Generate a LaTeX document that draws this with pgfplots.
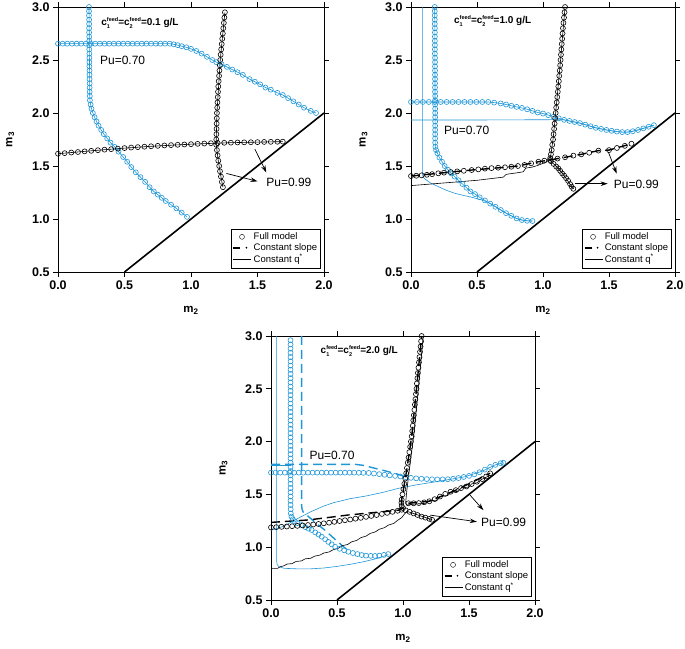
\documentclass[border=0pt]{standalone}
\usepackage{fontspec}
\setmainfont{Liberation Sans}
\usepackage{pgfplots}
\pgfplotsset{compat=1.18}
\usetikzlibrary{arrows.meta}
\definecolor{cblue}{RGB}{30,150,215}
\pgfplotsset{
 panel/.style={
  scale only axis, width=265pt, height=265pt,
  xmin=0,xmax=2,ymin=0.5,ymax=3,
  xtick={0,0.5,1,1.5,2}, ytick={0.5,1,1.5,2,2.5,3},
  tick align=outside, tick pos=both, major tick length=5pt,
  /pgf/number format/assume math mode=true,
  tick label style={font=\fontsize{12.5}{14}\selectfont\bfseries},
  xticklabel style={/pgf/number format/.cd,fixed,fixed zerofill,precision=1},
  yticklabel style={/pgf/number format/.cd,fixed,fixed zerofill,precision=1},
  xlabel={\textbf{m\textsubscript{2}}}, ylabel={\textbf{m\textsubscript{3}}},
  label style={font=\fontsize{11.5}{13}\selectfont\bfseries},
  xlabel style={at={(axis description cs:0.5,-0.145)},anchor=center},
  ylabel style={at={(axis description cs:-0.18,0.5)},anchor=center},
  axis line style={line width=0.8pt}, every tick/.style={black,line width=0.8pt},
  clip=false,
  legend style={at={(axis description cs:0.988,0.015)},anchor=south east,
    font=\fontsize{9.5}{10.5}\selectfont, draw=black, inner sep=1.5pt, row sep=-1.5pt,
    cells={anchor=west}},
  legend cell align=left,
 },
 full/.style={only marks, mark=o, mark size=2.5pt, mark options={line width=0.6pt}},
 qline/.style={line width=0.6pt, mark=none},
 sline/.style={line width=1.4pt, mark=none, dash pattern=on 9pt off 5pt},
}
\newcommand{\legimages}{%
 \addlegendimage{only marks, mark=o, mark size=2.5pt, black}
 \addlegendimage{legend image code/.code={\draw[line width=1.6pt,black] (0pt,0pt) -- (7pt,0pt); \fill[black] (13pt,0pt) circle (0.7pt);}}
 \addlegendimage{legend image code/.code={\draw[line width=0.5pt,black] (0pt,0pt) -- (18pt,0pt);}}
 \legend{Full model, Constant slope, Constant q\textsuperscript{*}}
}
\newcommand{\cf}[1]{c\makebox[0pt][l]{\raisebox{-2.6pt}{\fontsize{5.5}{6}\selectfont #1}}\raisebox{4.2pt}{\fontsize{5.5}{6}\selectfont feed}}
\tikzset{arr/.style={-{Stealth[length=7pt,width=4.5pt]}, line width=0.7pt, black},
 pu/.style={anchor=west, font=\fontsize{12}{14}\selectfont},
 ttl/.style={anchor=west, font=\fontsize{10}{11}\selectfont\bfseries}}
\begin{document}
\begin{tikzpicture}
\useasboundingbox (0pt,0pt) rectangle (685pt,648pt);
% ================= Panel 1 =================
\begin{axis}[panel, at={(58pt,376pt)}, anchor=south west, width=266pt]
\legimages
\addplot[black, line width=1.6pt] coordinates {(0.5,0.5)(2,2)};
\addplot[cblue, qline] coordinates {(0.233,3.00)(0.239,2.16)(0.24,2.12)(0.245,2.08)(0.252,2.04)(0.262,2.00)(0.275,1.96)(0.29,1.92)(0.305,1.88)(0.325,1.84)(0.345,1.80)(0.37,1.76)(0.395,1.72)(0.426,1.68)(0.455,1.635)(0.49,1.585)(0.52,1.54)(0.551,1.49)(0.585,1.44)(0.62,1.395)(0.655,1.35)(0.689,1.30)(0.72,1.26)(0.75,1.23)(0.78,1.20)(0.81,1.17)(0.85,1.135)(0.89,1.10)(0.93,1.06)(0.97,1.02)};
\addplot[cblue, qline] coordinates {(0,2.654)(0.84,2.654)(0.87,2.648)(0.90,2.64)(0.93,2.63)(0.965,2.62)(1.0,2.605)(1.04,2.585)(1.08,2.56)(1.12,2.53)(1.16,2.50)(1.19,2.48)(1.23,2.46)(1.27,2.435)(1.31,2.41)(1.35,2.385)(1.39,2.36)(1.44,2.32)(1.48,2.295)(1.52,2.27)(1.56,2.24)(1.60,2.22)(1.65,2.19)(1.69,2.17)(1.73,2.14)(1.77,2.11)(1.81,2.08)(1.85,2.05)(1.90,2.02)(1.94,2.0)};
\addplot[cblue, full] coordinates {(0.233,3.00)(0.233,2.96)(0.233,2.92)(0.234,2.88)(0.234,2.84)(0.234,2.80)(0.234,2.76)(0.235,2.72)(0.235,2.68)(0.235,2.64)(0.235,2.60)(0.236,2.56)(0.236,2.52)(0.236,2.48)(0.236,2.44)(0.237,2.40)(0.237,2.36)(0.237,2.32)(0.238,2.28)(0.238,2.24)(0.238,2.20)(0.239,2.16)(0.24,2.12)(0.245,2.08)(0.252,2.04)(0.262,2.00)(0.275,1.96)(0.29,1.92)(0.305,1.88)(0.325,1.84)(0.345,1.80)(0.37,1.76)(0.395,1.72)(0.426,1.68)(0.455,1.635)(0.49,1.585)(0.52,1.54)(0.551,1.49)(0.585,1.44)(0.62,1.395)(0.655,1.35)(0.689,1.30)(0.72,1.26)(0.75,1.23)(0.78,1.20)(0.81,1.17)(0.85,1.135)(0.89,1.10)(0.93,1.06)(0.97,1.02)};
\addplot[cblue, full] coordinates {(0,2.654)(0.035,2.654)(0.07,2.654)(0.105,2.654)(0.14,2.654)(0.175,2.654)(0.21,2.654)(0.245,2.654)(0.28,2.654)(0.315,2.654)(0.35,2.654)(0.385,2.654)(0.42,2.654)(0.455,2.654)(0.49,2.654)(0.525,2.654)(0.56,2.654)(0.595,2.654)(0.63,2.654)(0.665,2.654)(0.70,2.654)(0.735,2.654)(0.77,2.654)(0.805,2.654)(0.84,2.654)(0.87,2.648)(0.90,2.64)(0.93,2.63)(0.965,2.62)(1.0,2.605)(1.04,2.585)(1.08,2.56)(1.12,2.53)(1.16,2.50)(1.19,2.48)(1.23,2.46)(1.27,2.435)(1.31,2.41)(1.35,2.385)(1.39,2.36)(1.44,2.32)(1.48,2.295)(1.52,2.27)(1.56,2.24)(1.60,2.22)(1.65,2.19)(1.69,2.17)(1.73,2.14)(1.77,2.11)(1.81,2.08)(1.85,2.05)(1.90,2.02)(1.94,2.0)};
\addplot[black, qline] coordinates {(0,1.616)(0.2,1.638)(0.45,1.664)(0.7,1.686)(1.0,1.706)(1.3,1.72)(1.69,1.73)};
\addplot[black, qline] coordinates {(1.255,2.95)(1.22,2.50)(1.195,2.00)(1.19,1.75)(1.19,1.70)(1.205,1.55)(1.225,1.40)(1.24,1.30)};
\addplot[black, full] coordinates {(0,1.616)(0.05,1.621)(0.10,1.627)(0.15,1.632)(0.20,1.638)(0.25,1.643)(0.30,1.649)(0.35,1.654)(0.40,1.659)(0.45,1.664)(0.50,1.669)(0.55,1.674)(0.60,1.678)(0.65,1.682)(0.70,1.686)(0.75,1.69)(0.80,1.694)(0.85,1.697)(0.90,1.70)(0.95,1.703)(1.0,1.706)(1.05,1.709)(1.10,1.712)(1.15,1.715)(1.20,1.717)(1.25,1.719)(1.30,1.72)(1.35,1.722)(1.40,1.723)(1.45,1.724)(1.50,1.725)(1.55,1.727)(1.60,1.728)(1.65,1.729)(1.69,1.73)};
\addplot[black, full] coordinates {(1.255,2.95)(1.251,2.90)(1.247,2.85)(1.243,2.80)(1.239,2.75)(1.235,2.70)(1.231,2.65)(1.227,2.60)(1.223,2.55)(1.22,2.50)(1.217,2.45)(1.214,2.40)(1.211,2.35)(1.208,2.30)(1.205,2.25)(1.203,2.20)(1.201,2.15)(1.199,2.10)(1.197,2.05)(1.195,2.00)(1.194,1.95)(1.193,1.90)(1.192,1.85)(1.191,1.80)(1.19,1.75)(1.19,1.70)(1.195,1.65)(1.20,1.60)(1.205,1.55)(1.212,1.50)(1.218,1.45)(1.225,1.40)(1.232,1.35)(1.24,1.30)};
\draw[arr] (axis cs:1.266,1.43) -- (axis cs:1.50,1.355);
\draw[arr] (axis cs:1.48,1.66) -- (axis cs:1.566,1.44);
\node[pu] at (axis cs:1.54,1.35) {Pu=0.99};
\node[pu] at (axis cs:0.29,2.50) {Pu=0.70};
\node[ttl] at (axis cs:0.30,2.85) {\cf{1}=\cf{2}=0.1 g/L};
\end{axis}
% ================= Panel 2 =================
\begin{axis}[panel, at={(411pt,376pt)}, anchor=south west, width=264pt]
\legimages
\addplot[black, line width=1.6pt] coordinates {(0.5,0.5)(2,2)};
\addplot[cblue, qline] coordinates {(0.086,3.0)(0.086,1.45)(0.09,1.40)(0.106,1.377)(0.144,1.343)(0.207,1.305)(0.27,1.27)(0.333,1.242)(0.40,1.222)(0.46,1.205)(0.52,1.185)(0.573,1.163)(0.611,1.14)(0.65,1.11)(0.68,1.085)(0.72,1.055)(0.76,1.03)(0.80,1.005)(0.84,0.99)(0.88,0.983)(0.92,0.981)};
\addplot[cblue, qline] coordinates {(0,1.934)(0.5,1.934)(0.9,1.936)(1.1,1.937)(1.16,1.935)(1.20,1.925)(1.24,1.915)(1.28,1.905)(1.32,1.89)(1.36,1.875)(1.40,1.86)(1.44,1.85)(1.48,1.84)(1.52,1.832)(1.56,1.825)(1.60,1.82)(1.64,1.82)(1.68,1.828)(1.72,1.84)(1.76,1.855)(1.80,1.87)(1.84,1.885)};
\addplot[cblue, qline] coordinates {(0.18,3.0)(0.183,1.72)(0.185,1.68)(0.19,1.65)(0.20,1.62)(0.215,1.58)(0.235,1.54)(0.255,1.50)(0.28,1.465)(0.305,1.43)(0.33,1.40)(0.36,1.365)(0.39,1.33)(0.42,1.295)(0.45,1.26)(0.485,1.235)(0.52,1.205)(0.56,1.175)(0.60,1.145)(0.64,1.115)(0.68,1.085)(0.72,1.055)(0.76,1.03)(0.80,1.005)(0.84,0.99)(0.88,0.983)(0.92,0.981)};
\addplot[cblue, qline] coordinates {(0,2.104)(0.585,2.104)(0.63,2.098)(0.68,2.09)(0.72,2.08)(0.76,2.068)(0.80,2.058)(0.84,2.048)(0.88,2.035)(0.92,2.02)(0.96,2.005)(1.0,1.995)(1.04,1.98)(1.08,1.965)(1.12,1.95)(1.16,1.935)(1.20,1.925)(1.24,1.915)(1.28,1.905)(1.32,1.89)(1.36,1.875)(1.40,1.86)(1.44,1.85)(1.48,1.84)(1.52,1.832)(1.56,1.825)(1.60,1.82)(1.64,1.82)(1.68,1.828)(1.72,1.84)(1.76,1.855)(1.80,1.87)(1.84,1.885)};
\addplot[cblue, full] coordinates {(0.180,3.0)(0.180,2.96)(0.180,2.92)(0.180,2.88)(0.180,2.84)(0.181,2.80)(0.181,2.76)(0.181,2.72)(0.181,2.68)(0.181,2.64)(0.181,2.60)(0.181,2.56)(0.182,2.52)(0.182,2.48)(0.182,2.44)(0.182,2.40)(0.182,2.36)(0.182,2.32)(0.182,2.28)(0.182,2.24)(0.182,2.20)(0.183,2.16)(0.183,2.12)(0.183,2.08)(0.183,2.04)(0.183,2.00)(0.183,1.96)(0.183,1.92)(0.183,1.88)(0.183,1.84)(0.183,1.80)(0.183,1.76)(0.183,1.72)(0.185,1.68)(0.19,1.65)(0.20,1.62)(0.215,1.58)(0.235,1.54)(0.255,1.50)(0.28,1.465)(0.305,1.43)(0.33,1.40)(0.36,1.365)(0.39,1.33)(0.42,1.295)(0.45,1.26)(0.485,1.235)(0.52,1.205)(0.56,1.175)(0.60,1.145)(0.64,1.115)(0.68,1.085)(0.72,1.055)(0.76,1.03)(0.80,1.005)(0.84,0.99)(0.88,0.983)(0.92,0.981)};
\addplot[cblue, full] coordinates {(0,2.104)(0.045,2.104)(0.09,2.104)(0.135,2.104)(0.18,2.104)(0.225,2.104)(0.27,2.104)(0.315,2.104)(0.36,2.104)(0.405,2.104)(0.45,2.104)(0.495,2.104)(0.54,2.104)(0.585,2.104)(0.63,2.098)(0.68,2.09)(0.72,2.08)(0.76,2.068)(0.80,2.058)(0.84,2.048)(0.88,2.035)(0.92,2.02)(0.96,2.005)(1.0,1.995)(1.04,1.98)(1.08,1.965)(1.12,1.95)(1.16,1.935)(1.20,1.925)(1.24,1.915)(1.28,1.905)(1.32,1.89)(1.36,1.875)(1.40,1.86)(1.44,1.85)(1.48,1.84)(1.52,1.832)(1.56,1.825)(1.60,1.82)(1.64,1.82)(1.68,1.828)(1.72,1.84)(1.76,1.855)(1.80,1.87)(1.84,1.885)};
\addplot[black, qline] coordinates {(0,1.315)(0.1,1.325)(0.2,1.335)(0.3,1.345)(0.4,1.355)(0.5,1.365)(0.6,1.38)(0.7,1.395)(0.72,1.42)(0.74,1.425)(0.8,1.435)(0.85,1.445)(0.87,1.48)(0.92,1.49)(0.97,1.51)(1.0,1.525)(1.053,1.557)};
\addplot[black, sline] coordinates {(0,1.405)(0.207,1.431)(0.46,1.462)(0.712,1.488)(0.81,1.50)(0.965,1.54)(1.053,1.557)(1.167,1.582)(1.29,1.61)(1.42,1.645)(1.50,1.65)(1.67,1.71)};
\addplot[black, qline] coordinates {(1.167,3.0)(1.133,2.50)(1.096,2.00)(1.076,1.75)(1.06,1.61)(1.05,1.56)(1.08,1.52)(1.116,1.478)(1.16,1.41)(1.217,1.305)(1.23,1.285)};
\addplot[black, full] coordinates {(0,1.405)(0.04,1.408)(0.08,1.412)(0.12,1.417)(0.16,1.423)(0.207,1.431)(0.25,1.437)(0.30,1.443)(0.35,1.449)(0.40,1.455)(0.46,1.462)(0.51,1.468)(0.56,1.475)(0.61,1.48)(0.66,1.484)(0.712,1.488)(0.76,1.493)(0.81,1.50)(0.86,1.51)(0.91,1.525)(0.965,1.54)(1.01,1.55)(1.053,1.557)(1.11,1.57)(1.167,1.582)(1.23,1.598)(1.29,1.61)(1.35,1.625)(1.42,1.645)(1.50,1.65)(1.56,1.67)(1.62,1.69)(1.67,1.71)};
\addplot[black, full] coordinates {(1.167,3.0)(1.163,2.95)(1.159,2.90)(1.155,2.85)(1.151,2.80)(1.148,2.75)(1.145,2.70)(1.142,2.65)(1.139,2.60)(1.136,2.55)(1.133,2.50)(1.13,2.45)(1.127,2.40)(1.123,2.35)(1.12,2.30)(1.116,2.25)(1.112,2.20)(1.108,2.15)(1.104,2.10)(1.10,2.05)(1.096,2.00)(1.092,1.95)(1.088,1.90)(1.084,1.85)(1.08,1.80)(1.076,1.75)(1.07,1.70)(1.066,1.65)(1.06,1.61)(1.055,1.575)(1.06,1.545)(1.08,1.52)(1.10,1.495)(1.116,1.478)(1.13,1.455)(1.145,1.43)(1.16,1.41)(1.175,1.385)(1.19,1.36)(1.205,1.33)(1.217,1.305)(1.23,1.285)};
\draw[arr] (axis cs:1.242,1.333) -- (axis cs:1.49,1.333);
\draw[arr] (axis cs:1.495,1.632) -- (axis cs:1.558,1.428);
\node[pu] at (axis cs:1.51,1.33) {Pu=0.99};
\node[pu] at (axis cs:0.225,1.84) {Pu=0.70};
\node[ttl] at (axis cs:0.30,2.868) {\cf{1}=\cf{2}=1.0 g/L};
\end{axis}
% ================= Panel 3 =================
\begin{axis}[panel, at={(271pt,48pt)}, anchor=south west, width=264pt, height=264pt]
\legimages
\addplot[black, line width=1.6pt] coordinates {(0.5,0.5)(2,2)};
\addplot[cblue, qline] coordinates {(0.043,3.0)(0.043,0.87)(0.047,0.835)(0.06,0.815)(0.10,0.80)(0.2,0.795)(0.3,0.795)(0.4,0.803)(0.5,0.818)(0.6,0.838)(0.7,0.862)(0.8,0.892)(0.889,0.93)};
\addplot[cblue, qline] coordinates {(0,1.78)(0.148,1.78)};
\addplot[cblue, qline] coordinates {(0,1.16)(0.1,1.20)(0.2,1.27)(0.3,1.335)(0.4,1.39)(0.47,1.42)(0.6,1.46)(0.72,1.485)(0.85,1.52)(0.964,1.557)(1.1,1.59)(1.25,1.62)(1.47,1.667)(1.6,1.72)(1.7,1.78)(1.76,1.80)};
\addplot[cblue, sline] coordinates {(0.232,3.0)(0.232,1.40)(0.235,1.36)(0.245,1.33)(0.27,1.305)(0.34,1.23)(0.41,1.16)(0.48,1.08)(0.548,1.005)(0.60,0.957)};
\addplot[cblue, sline] coordinates {(0,1.785)(0.636,1.785)(0.70,1.775)(0.788,1.747)(0.88,1.718)(0.964,1.69)(1.02,1.665)};
\addplot[cblue, full] coordinates {(0.148,2.96)(0.148,2.92)(0.148,2.88)(0.148,2.84)(0.148,2.80)(0.148,2.76)(0.148,2.72)(0.148,2.68)(0.148,2.64)(0.148,2.60)(0.148,2.56)(0.148,2.52)(0.148,2.48)(0.148,2.44)(0.148,2.40)(0.148,2.36)(0.148,2.32)(0.148,2.28)(0.148,2.24)(0.148,2.20)(0.148,2.16)(0.148,2.12)(0.148,2.08)(0.148,2.04)(0.148,2.00)(0.148,1.96)(0.148,1.92)(0.148,1.88)(0.148,1.84)(0.148,1.80)(0.148,1.76)(0.148,1.72)(0.148,1.68)(0.148,1.64)(0.148,1.60)(0.148,1.56)(0.148,1.52)(0.148,1.48)(0.148,1.44)(0.148,1.40)(0.149,1.36)(0.150,1.32)(0.155,1.29)(0.165,1.265)(0.18,1.245)(0.20,1.228)(0.232,1.21)(0.26,1.19)(0.285,1.175)(0.308,1.163)(0.335,1.14)(0.36,1.12)(0.384,1.10)(0.41,1.075)(0.435,1.05)(0.46,1.027)(0.485,1.005)(0.52,0.985)(0.555,0.97)(0.586,0.957)(0.62,0.945)(0.655,0.935)(0.687,0.926)(0.72,0.92)(0.755,0.918)(0.788,0.917)(0.82,0.92)(0.855,0.927)(0.889,0.935)};
\addplot[cblue, full] coordinates {(0,1.706)(0.035,1.706)(0.07,1.706)(0.105,1.706)(0.14,1.706)(0.175,1.706)(0.21,1.706)(0.245,1.706)(0.28,1.706)(0.315,1.706)(0.35,1.706)(0.385,1.706)(0.42,1.706)(0.455,1.706)(0.49,1.706)(0.525,1.706)(0.56,1.706)(0.595,1.706)(0.63,1.706)(0.665,1.705)(0.70,1.704)(0.74,1.703)(0.78,1.698)(0.82,1.692)(0.86,1.686)(0.90,1.68)(0.94,1.675)(0.98,1.67)(1.02,1.663)(1.06,1.657)(1.10,1.652)(1.14,1.648)(1.18,1.645)(1.22,1.643)(1.26,1.642)(1.30,1.642)(1.34,1.644)(1.38,1.648)(1.42,1.655)(1.46,1.665)(1.50,1.675)(1.54,1.69)(1.58,1.71)(1.62,1.735)(1.66,1.76)(1.70,1.78)(1.74,1.795)(1.76,1.80)};
\addplot[black, qline] coordinates {(0,0.80)(0.05,0.80)(0.07,0.815)(0.10,0.825)(0.12,0.84)(0.16,0.845)(0.19,0.865)(0.23,0.87)(0.26,0.89)(0.30,0.895)(0.33,0.915)(0.37,0.925)(0.40,0.945)(0.44,0.955)(0.47,0.975)(0.51,0.99)(0.54,1.015)(0.58,1.025)(0.61,1.05)(0.65,1.065)(0.68,1.09)(0.72,1.105)(0.75,1.13)(0.79,1.145)(0.82,1.17)(0.86,1.185)(0.89,1.21)(0.93,1.225)(0.96,1.255)(0.99,1.28)(1.015,1.32)(1.03,1.34)(1.1,1.31)(1.22,1.26)};
\addplot[black, qline] coordinates {(1.153,3.0)(1.12,2.55)(1.085,2.10)(1.05,1.75)(1.03,1.55)(1.02,1.42)(1.03,1.40)(1.1,1.41)(1.17,1.415)(1.2,1.44)(1.26,1.445)(1.28,1.48)(1.34,1.49)(1.36,1.52)(1.42,1.53)(1.44,1.56)(1.5,1.57)(1.52,1.60)(1.56,1.61)(1.6,1.645)(1.66,1.68)};
\addplot[black, sline] coordinates {(0,1.235)(0.283,1.258)(0.586,1.305)(0.964,1.35)(1.0,1.37)};
\addplot[black, sline] coordinates {(0.99,1.40)(0.99,1.45)(1.028,1.73)(1.066,2.05)(1.104,2.52)(1.141,3.0)};
\addplot[black, sline] coordinates {(1.04,1.416)(1.2,1.435)(1.4,1.54)(1.66,1.70)};
\addplot[black, full] coordinates {(0,1.187)(0.04,1.19)(0.08,1.193)(0.12,1.196)(0.16,1.199)(0.2,1.202)(0.24,1.206)(0.28,1.21)(0.32,1.215)(0.36,1.22)(0.40,1.226)(0.44,1.232)(0.48,1.24)(0.52,1.248)(0.56,1.255)(0.60,1.262)(0.64,1.27)(0.68,1.278)(0.72,1.287)(0.76,1.296)(0.80,1.305)(0.84,1.315)(0.88,1.325)(0.92,1.335)(0.96,1.345)(0.99,1.355)};
\addplot[black, full] coordinates {(1.141,3.0)(1.137,2.95)(1.133,2.90)(1.129,2.85)(1.125,2.80)(1.121,2.75)(1.117,2.70)(1.113,2.65)(1.109,2.60)(1.105,2.55)(1.102,2.50)(1.098,2.45)(1.094,2.40)(1.09,2.35)(1.086,2.30)(1.082,2.25)(1.078,2.20)(1.074,2.15)(1.07,2.10)(1.066,2.05)(1.06,2.0)(1.054,1.95)(1.048,1.90)(1.042,1.85)(1.036,1.80)(1.030,1.75)(1.024,1.70)(1.017,1.65)(1.01,1.60)(1.003,1.55)(0.996,1.50)(0.99,1.45)(0.988,1.42)(0.99,1.39)(1.0,1.37)(1.02,1.35)(1.05,1.335)(1.08,1.32)(1.11,1.305)(1.14,1.29)(1.17,1.28)(1.2,1.268)(1.22,1.26)};
\addplot[black, full] coordinates {(1.04,1.416)(1.08,1.416)(1.12,1.418)(1.16,1.425)(1.2,1.435)(1.24,1.455)(1.28,1.48)(1.32,1.505)(1.36,1.525)(1.40,1.54)(1.44,1.56)(1.48,1.575)(1.52,1.598)(1.56,1.62)(1.60,1.645)(1.63,1.67)(1.66,1.70)};
\draw[arr] (axis cs:1.205,1.304) -- (axis cs:1.559,1.241);
\draw[arr] (axis cs:1.508,1.493) -- (axis cs:1.609,1.351);
\node[pu] at (axis cs:1.565,1.235) {Pu=0.99};
\node[pu] at (axis cs:0.265,1.87) {Pu=0.70};
\node[ttl] at (axis cs:0.35,2.86) {\cf{1}=\cf{2}=2.0 g/L};
\end{axis}
\end{tikzpicture}
\end{document}
